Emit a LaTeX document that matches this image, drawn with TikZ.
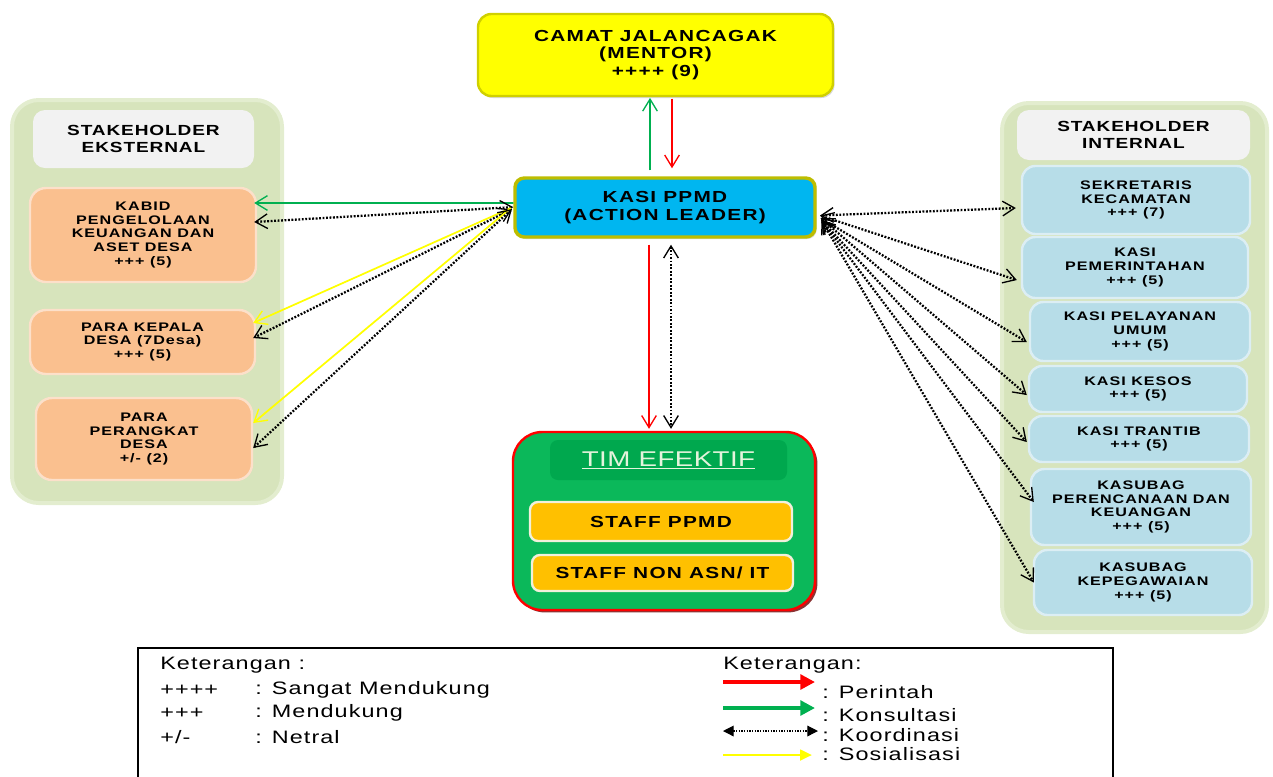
\documentclass[tikz,border=0pt]{standalone}
\usepackage{fontspec}
\setmainfont{Liberation Sans}[FakeStretch=1.3,LetterSpace=6]
\newfontfamily\boxfont{Liberation Sans}[FakeStretch=1.3,LetterSpace=8]
\newfontfamily\titlefont{Liberation Sans}[FakeStretch=1.3,LetterSpace=6]
\newfontfamily\teamfont{Liberation Sans}[FakeStretch=1.3,LetterSpace=2]
\usetikzlibrary{arrows.meta,calc,shadows}

\definecolor{camatY}{HTML}{FFFF00}
\definecolor{camatE}{HTML}{D0D000}
\definecolor{kasiB}{HTML}{00B6F0}
\definecolor{kasiE}{HTML}{BDBD00}
\definecolor{timG}{HTML}{0BB85A}
\definecolor{timT}{HTML}{00A84E}
\definecolor{timTxt}{HTML}{E4F4DC}
\definecolor{staffO}{HTML}{FFC000}
\definecolor{staffE}{HTML}{F2F0DC}
\definecolor{panelG}{HTML}{D7E4BC}
\definecolor{panelE}{HTML}{E3EDCF}
\definecolor{titleW}{HTML}{F2F2F2}
\definecolor{extO}{HTML}{FAC08F}
\definecolor{extE}{HTML}{FCE0CA}
\definecolor{intB}{HTML}{B7DDE8}
\definecolor{intE}{HTML}{DCEEF4}
\definecolor{arrG}{HTML}{00B050}
\definecolor{arrR}{HTML}{FF0000}
\definecolor{arrY}{HTML}{FFFF00}
\definecolor{shadowR}{HTML}{6E0000}

\tikzset{
  bw/.style={minimum width=#1*0.75pt, inner sep=0pt},
  bh/.style={minimum height=#1*0.75pt},
  boxtxt/.style={align=center, font=\boxfont\bfseries\fontsize{12}{13.3}\selectfont},
  smalltxt/.style={align=center, font=\boxfont\bfseries\fontsize{9.3}{10.2}\selectfont},
  camatbox/.style={boxtxt, fill=camatY, draw=camatE, line width=1.8pt, rounded corners=10pt,
    drop shadow={shadow xshift=1.2pt, shadow yshift=-1.5pt, opacity=0.3}},
  kasibox/.style={boxtxt, fill=kasiB, draw=kasiE, line width=2.6pt, rounded corners=7pt,
    drop shadow={shadow xshift=1.2pt, shadow yshift=-1.5pt, opacity=0.3}},
  timbox/.style={fill=timG, draw=arrR, line width=1.8pt, rounded corners=22pt,
    drop shadow={shadow xshift=1.8pt, shadow yshift=-1.8pt, opacity=0.8, fill=shadowR}},
  timtitle/.style={fill=timT, rounded corners=6pt, text=timTxt, font=\teamfont\fontsize{16}{18}\selectfont},
  staffbox/.style={boxtxt, fill=staffO, draw=staffE, line width=1.8pt, rounded corners=6pt},
  panel/.style={fill=panelG, draw=panelE, line width=3pt, rounded corners=20pt},
  ptitle/.style={fill=titleW, rounded corners=9pt, align=center, font=\titlefont\bfseries\fontsize{11}{12.8}\selectfont},
  extbox/.style={smalltxt, fill=extO, draw=extE, line width=1.8pt, rounded corners=12pt},
  intbox/.style={smalltxt, fill=intB, draw=intE, line width=1.8pt, rounded corners=10pt},
  konsul/.style={draw=arrG, line width=1.3pt, -{Straight Barb[length=9pt, width=11pt, line width=1pt]}},
  perintah/.style={draw=arrR, line width=1.5pt, -{Straight Barb[length=9pt, width=11pt, line width=1pt]}},
  sosial/.style={draw=arrY, line width=1.3pt, -{Straight Barb[length=9pt, width=11pt, line width=1pt]}},
  koord/.style={draw=black, line width=1.7pt, dash pattern=on 1.4pt off 1.2pt,
    {Straight Barb[length=9pt, width=11pt, line width=1pt]}-{Straight Barb[length=9pt, width=11pt, line width=1pt]}},
  legtxt/.style={anchor=west, inner sep=0pt, font=\fontsize{13.5}{15}\selectfont},
}

\begin{document}
\begin{tikzpicture}[x=0.75pt, y=-0.75pt]
\useasboundingbox (0,0) rectangle (1273,776);

% ---- external stakeholders ----
\node[panel, bw=270, bh=403] (lpanel) at (147,301.5) {};
\node[ptitle, bw=221, bh=58] (ltitle) at (143.5,139) {STAKEHOLDER\\EKSTERNAL};
\node[extbox, bw=226, bh=94] (kabid) at (143,235) {KABID\\PENGELOLAAN\\KEUANGAN DAN\\ASET DESA\\+++ (5)};
\node[extbox, bw=225, bh=64] (kepala) at (142.5,342) {PARA KEPALA\\DESA (7Desa)\\+++ (5)};
\node[extbox, bw=216, bh=82] (perangkat) at (144,439) {PARA\\PERANGKAT\\DESA\\+/- (2)};

% ---- internal stakeholders ----
\node[panel, bw=265, bh=529] (rpanel) at (1134.5,367.5) {};
\node[ptitle, bw=233, bh=50] (rtitle) at (1133.5,135) {STAKEHOLDER\\INTERNAL};
\node[intbox, bw=228, bh=68] (sekre) at (1136,200) {SEKRETARIS\\KECAMATAN\\+++ (7)};
\node[intbox, bw=226, bh=61] (pem) at (1135,267.5) {KASI\\PEMERINTAHAN\\+++ (5)};
\node[intbox, bw=220, bh=59] (pel) at (1140,331.5) {KASI PELAYANAN\\UMUM\\+++ (5)};
\node[intbox, bw=218, bh=46] (kesos) at (1138,389) {KASI KESOS\\+++ (5)};
\node[intbox, bw=220, bh=46] (trantib) at (1139,439) {KASI TRANTIB\\+++ (5)};
\node[intbox, bw=220, bh=76] (perenc) at (1141,507) {KASUBAG\\PERENCANAAN DAN\\KEUANGAN\\+++ (5)};
\node[intbox, bw=218, bh=65] (pegawai) at (1143,582.5) {KASUBAG\\KEPEGAWAIAN\\+++ (5)};

% ---- centre column ----
\node[camatbox, bw=355, bh=82] (camat) at (655.5,55) {CAMAT JALANCAGAK\\(MENTOR)\\++++ (9)};
\node[kasibox, bw=300, bh=59] (kasi) at (665,207.5) {KASI PPMD\\(ACTION LEADER)};
\node[timbox, bw=302, bh=178] (tim) at (664,521) {};
\node[timtitle, bw=237, bh=40] (timtitle) at (668.5,460) {\underline{TIM EFEKTIF}};
\node[staffbox, bw=262, bh=39] (staff1) at (661,521.5) {STAFF PPMD};
\node[staffbox, bw=261, bh=36] (staff2) at (662.5,573) {STAFF NON ASN/ IT};

% ---- mentor link ----
\coordinate (g1) at ([xshift=-11.25pt]kasi.north);
\coordinate (r1) at ([xshift=5.25pt]kasi.north);
\draw[konsul, shorten <=4.5pt, shorten >=0.5pt] (g1) -- (g1 |- camat.south);
\draw[perintah, shorten <=1pt, shorten >=6pt] (r1 |- camat.south) -- (r1);

% ---- effective team link ----
\coordinate (r2) at ([xshift=-12pt]kasi.south);
\coordinate (d2) at ([xshift=4.5pt]kasi.south);
\draw[perintah, shorten <=4.5pt, shorten >=1.5pt] (r2) -- (r2 |- tim.north);
\draw[koord, shorten <=4.5pt, shorten >=1.5pt] (d2) -- (d2 |- tim.north);

% ---- external links ----
\coordinate (kw1) at ([yshift=3.4pt]kasi.west);
\coordinate (kw2) at ([yshift=0.3pt]kasi.west);
\coordinate (kw3) at ([xshift=-2pt,yshift=-0.5pt]kasi.west);
\coordinate (kw4) at ([xshift=-1pt,yshift=-1.2pt]kasi.west);
\draw[konsul] (kw1) -- ([xshift=-2.25pt,yshift=24pt]kabid.east);
\draw[koord] (kw2) -- ([xshift=-2.25pt,yshift=9.75pt]kabid.east);
\draw[sosial] (kw3) -- ([xshift=-2.25pt,yshift=14.25pt]kepala.east);
\draw[koord] (kw4) -- ([xshift=-2.25pt,yshift=3pt]kepala.east);
\draw[sosial] (kw3) -- ([yshift=12pt]perangkat.east);
\draw[koord] (kw4) -- ([yshift=-6.75pt]perangkat.east);

% ---- internal links ----
\coordinate (ke1) at ([xshift=2.5pt,yshift=-6pt]kasi.east);
\coordinate (ke2) at ([xshift=3pt,yshift=-8pt]kasi.east);
\coordinate (ke3) at ([xshift=3.5pt,yshift=-9.5pt]kasi.east);
\draw[koord] (ke1) -- ([xshift=-3.75pt,yshift=-6pt]sekre.west);
\draw[koord] (ke1) -- ([xshift=-3pt,yshift=-9.4pt]pem.west);
\draw[koord] (ke2) -- ([xshift=-1.5pt,yshift=-7.9pt]pel.west);
\draw[koord] (ke2) -- ([xshift=-0.75pt,yshift=-4.5pt]kesos.west);
\draw[koord] (ke3) -- ([xshift=-0.75pt,yshift=-2.25pt]trantib.west);
\draw[koord] (ke3) -- ([xshift=3pt,yshift=3.75pt]perenc.west);
\draw[koord] (ke3) -- ([xshift=0.75pt]pegawai.west);

% ---- legend ----
\draw[line width=0.9pt] (138,800) -- (138,648) -- (1113,648) -- (1113,800);
\node[legtxt] (lk1) at (160,665) {Keterangan :};
\node[legtxt] (ls1) at (160,690) {++++};
\node[legtxt] (ls1t) at (255,690) {: Sangat Mendukung};
\node[legtxt] (ls2) at (160,713) {+++};
\node[legtxt] (ls2t) at (255,713) {: Mendukung};
\node[legtxt] (ls3) at (160,737) {+/-};
\node[legtxt] (ls3t) at (255,737) {: Netral};

\node[legtxt] (lk2) at (723,665) {Keterangan:};
\coordinate (la1) at (723,682); \coordinate (lb1) at (815,682);
\coordinate (la2) at (723,708); \coordinate (lb2) at (815,708);
\coordinate (la3) at (723,731); \coordinate (lb3) at (818,731);
\coordinate (la4) at (723,755); \coordinate (lb4) at (812,755);
\draw[arrR, line width=3.2pt, -{Triangle[length=11pt, width=11pt]}] (la1) -- (lb1);
\draw[arrG, line width=3.2pt, -{Triangle[length=11pt, width=11pt]}] (la2) -- (lb2);
\draw[black, line width=0.9pt, dash pattern=on 1pt off 1pt,
  {Triangle[length=8pt, width=8pt]}-{Triangle[length=8pt, width=8pt]}] (la3) -- (lb3);
\draw[arrY, line width=2pt, -{Triangle[length=9pt, width=8pt]}] (la4) -- (lb4);
\node[legtxt] (lt1) at (822,692) {: Perintah};
\node[legtxt] (lt2) at (822,715) {: Konsultasi};
\node[legtxt] (lt3) at (822,735) {: Koordinasi};
\node[legtxt] (lt4) at (822,754) {: Sosialisasi};
\end{tikzpicture}
\end{document}
